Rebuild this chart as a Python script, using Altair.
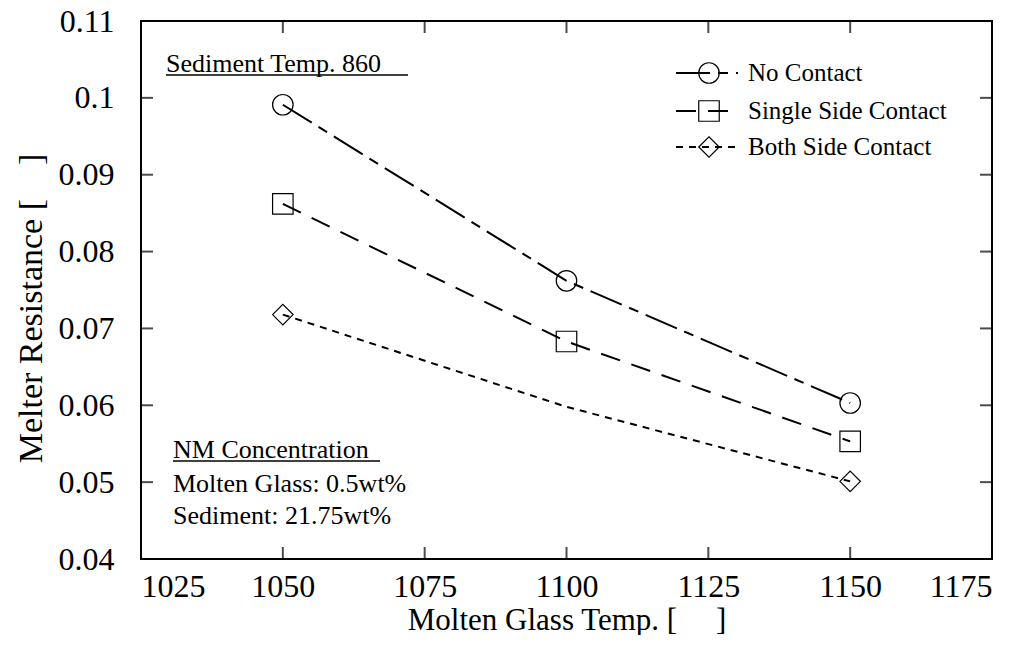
import altair as alt
import pandas as pd

# Measured melter resistance vs molten glass temperature
temps = [1050, 1100, 1150]
no_contact = [0.0991, 0.0762, 0.0603]
single_side = [0.0862, 0.0683, 0.0553]
both_side = [0.0718, 0.0598, 0.0501]
# the middle point of the both-side series is drawn without a symbol
both_marker = [True, False, True]

series_names = ["No Contact", "Single Side Contact", "Both Side Contact"]
shapes = ["circle", "square", "diamond"]
dashes = [[34, 8, 10, 8], [20, 12], [7, 6]]

x_ticks = [1050, 1075, 1100, 1125, 1150]
y_ticks = [0.05, 0.06, 0.07, 0.08, 0.09, 0.1]

FONT = "Liberation Serif"
NB = "\u00a0"
W, H = 851, 538

rows = []
for name, vals in zip(series_names, [no_contact, single_side, both_side]):
    for i, (t, v) in enumerate(zip(temps, vals)):
        show = both_marker[i] if name == "Both Side Contact" else True
        rows.append({"series": name, "temp": t, "res": v, "order": i, "marker": show})
df = pd.DataFrame(rows)

x_scale = alt.Scale(domain=[1025, 1175], nice=False, zero=False)
y_scale = alt.Scale(domain=[0.04, 0.11], nice=False, zero=False)
dash_scale = alt.Scale(domain=series_names, range=dashes)
shape_scale = alt.Scale(domain=series_names, range=shapes)

x_enc = alt.X(
    "temp:Q", scale=x_scale,
    axis=alt.Axis(values=[1025, 1050, 1075, 1100, 1125, 1150, 1175], format="d",
                  ticks=False, tickSize=0, domain=False, grid=False,
                  labelFont=FONT, labelFontSize=32, labelPadding=12, labelColor="black",
                  title="Molten Glass Temp. [" + NB * 5 + "]", titleFont=FONT, titleFontSize=31,
                  titleFontWeight="normal", titleColor="black", titlePadding=3),
)
y_enc = alt.Y(
    "res:Q", scale=y_scale,
    axis=alt.Axis(values=[0.04, 0.05, 0.06, 0.07, 0.08, 0.09, 0.1, 0.11], format="~g",
                  ticks=False, tickSize=0, domain=False, grid=False,
                  labelFont=FONT, labelFontSize=32, labelPadding=27, labelColor="black",
                  title="Melter Resistance [" + NB * 4 + "]", titleFont=FONT, titleFontSize=34,
                  titleFontWeight="normal", titleColor="black", titlePadding=10,
                  titleY=287),
)

base = alt.Chart(df)

lines = base.mark_line(color="black", strokeWidth=2).encode(
    x=x_enc, y=y_enc,
    detail="series:N",
    order="order:Q",
    strokeDash=alt.StrokeDash("series:N", scale=dash_scale, legend=None),
)

points = base.transform_filter(alt.datum.marker).mark_point(
    filled=False, color="black", strokeWidth=1.2, size=420, opacity=1
).encode(
    x=alt.X("temp:Q", scale=x_scale),
    y=alt.Y("res:Q", scale=y_scale),
    shape=alt.Shape("series:N", scale=shape_scale, legend=None),
)

# inward ticks on all four sides of the frame
TL = 12
xt = pd.DataFrame({"temp": x_ticks})
yt = pd.DataFrame({"res": y_ticks})
tick_bottom = alt.Chart(xt).mark_tick(orient="vertical", size=TL, thickness=2, color="black").encode(
    x=alt.X("temp:Q", scale=x_scale), y=alt.value(H - TL / 2))
tick_top = alt.Chart(xt).mark_tick(orient="vertical", size=TL, thickness=2, color="black").encode(
    x=alt.X("temp:Q", scale=x_scale), y=alt.value(TL / 2))
tick_left = alt.Chart(yt).mark_tick(orient="horizontal", size=TL, thickness=2, color="black").encode(
    y=alt.Y("res:Q", scale=y_scale), x=alt.value(TL / 2))
tick_right = alt.Chart(yt).mark_tick(orient="horizontal", size=TL, thickness=2, color="black").encode(
    y=alt.Y("res:Q", scale=y_scale), x=alt.value(W - TL / 2))

# hand-placed key in the upper right corner
leg = pd.DataFrame({"series": series_names, "ly": [52, 90, 126]})
leg_base = alt.Chart(leg)
leg_lines = leg_base.mark_rule(color="black", strokeWidth=2).encode(
    x=alt.value(535), x2=alt.value(597),
    y=alt.Y("ly:Q", scale=None),
    strokeDash=alt.StrokeDash("series:N", scale=dash_scale, legend=None),
)
leg_points = leg_base.mark_point(filled=False, color="black", strokeWidth=1.2, size=420, opacity=1).encode(
    x=alt.value(568),
    y=alt.Y("ly:Q", scale=None),
    shape=alt.Shape("series:N", scale=shape_scale, legend=None),
)
leg_text = leg_base.mark_text(align="left", baseline="middle", font=FONT, fontSize=25, color="black").encode(
    x=alt.value(607),
    y=alt.Y("ly:Q", scale=None),
    text="series:N",
)

# annotations
notes = pd.DataFrame({
    "txt": ["Sediment Temp. 860", "NM Concentration", "Molten Glass: 0.5wt%", "Sediment: 21.75wt%"],
    "nx": [25, 32, 32, 32],
    "ny": [51, 437, 471, 503],
})
note_text = alt.Chart(notes).mark_text(align="left", baseline="alphabetic", font=FONT, fontSize=26, color="black").encode(
    x=alt.X("nx:Q", scale=None), y=alt.Y("ny:Q", scale=None), text="txt:N")

underlines = pd.DataFrame({"ux": [25, 32], "ux2": [267, 239], "uy": [54, 440]})
note_lines = alt.Chart(underlines).mark_rule(color="black", strokeWidth=1.3).encode(
    x=alt.X("ux:Q", scale=None), x2="ux2:Q", y=alt.Y("uy:Q", scale=None))

chart = alt.layer(
    lines, points, tick_bottom, tick_top, tick_left, tick_right,
    leg_lines, leg_points, leg_text, note_text, note_lines,
).properties(
    width=W, height=H,
    padding={"left": 141, "top": 21, "right": 34, "bottom": 76},
    autosize=alt.AutoSizeParams(type="none"),
    background="white",
).configure_view(stroke="black", strokeWidth=2)

chart.save("out.html", embed_options={"renderer": "svg", "actions": False})
